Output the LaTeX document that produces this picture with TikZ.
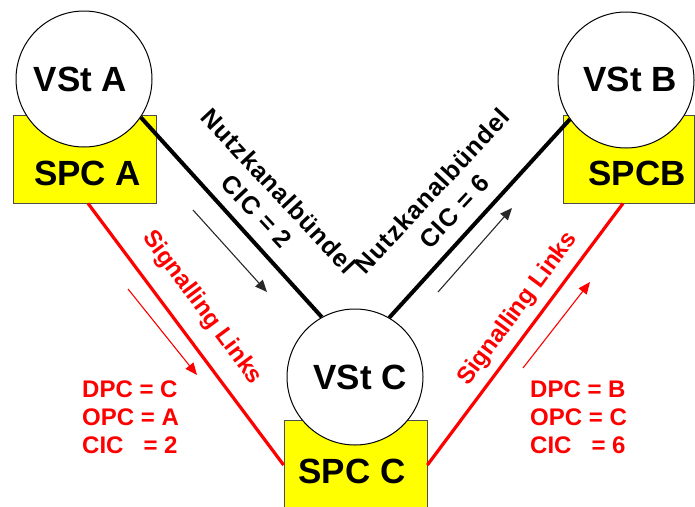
\documentclass[tikz,border=0pt]{standalone}
\usepackage{fontspec}
\setmainfont{Liberation Sans}
\usetikzlibrary{arrows.meta}

\definecolor{spcyellow}{RGB}{255,255,0}
\definecolor{linkred}{RGB}{255,0,0}
\definecolor{flowgray}{RGB}{40,40,40}

\tikzset{
  vst/.style={circle, draw=black, line width=1pt, fill=white,
              minimum size=136pt, inner sep=0pt},
  spcbox/.style={rectangle, draw=black!70, line width=0.8pt,
                 fill=spcyellow, inner sep=0pt},
  biglabel/.style={font=\fontsize{35}{40}\selectfont\bfseries,
                   inner sep=0pt, anchor=base},
  midlabel/.style={font=\fontsize{24}{28}\selectfont\bfseries,
                   inner sep=0pt},
  trunklabel/.style={font=\fontsize{25}{30}\selectfont\bfseries\addfontfeature{LetterSpace=4},
                     inner sep=0pt, align=center},
  trunk/.style={line width=4pt, black},
  siglink/.style={line width=3.2pt, linkred},
  flowarrow/.style={line width=1.1pt, flowgray,
                    -{Triangle[length=12pt,width=10pt]}},
  sigarrow/.style={line width=1.1pt, linkred,
                   -{Triangle[length=12pt,width=10pt]}},
}

\begin{document}
\begin{tikzpicture}[x=1pt,y=-1pt]
\useasboundingbox (0,0) rectangle (695,506);

% signalling point boxes
\node[spcbox, minimum width=143pt, minimum height=88pt] (spcA) at (84.5,159) {};
\node[spcbox, minimum width=131pt, minimum height=88pt] (spcB) at (628.5,159) {};
\node[spcbox, minimum width=143pt, minimum height=90pt] (spcC) at (355.5,465) {};

% exchanges
\node[vst] (vstA) at (84,79) {};
\node[vst] (vstB) at (626,80) {};
\node[vst] (vstC) at (355,377) {};

\node[biglabel] (tA) at (80.5,91) {VSt A};
\node[biglabel] (tB) at (630,91) {VSt B};
\node[biglabel] (tC) at (360,389) {VSt C};
\node[biglabel] (sA) at (87.5,185) {SPC A};
\node[biglabel] (sB) at (637,185) {SPCB};
\node[biglabel] (sC) at (352,483) {SPC C};

% trunk groups
\draw[trunk] (vstA.-34) -- (vstC.119);
\draw[trunk] (vstB.215) -- (vstC.60);

% signalling links
\draw[siglink] ([xshift=3.5pt]spcA.south) -- (spcC.west);
\draw[siglink] ([xshift=-5.5pt]spcB.south) -- (spcC.east);

% direction arrows
\coordinate (fa1) at (193,210); \coordinate (fa2) at (267,292);
\coordinate (fb1) at (438,292); \coordinate (fb2) at (512,208);
\coordinate (ra1) at (128,289); \coordinate (ra2) at (197,375);
\coordinate (rb1) at (523,368); \coordinate (rb2) at (590,282);
\draw[flowarrow] (fa1) -- (fa2);
\draw[flowarrow] (fb1) -- (fb2);
\draw[sigarrow] (ra1) -- (ra2);
\draw[sigarrow] (rb1) -- (rb2);

% trunk labels
\node[trunklabel, rotate=-47] (nkA) at (268,201)
  {Nutzkanalbündel\\CIC = 2};
\node[trunklabel, rotate=47] (nkB) at (443,201)
  {Nutzkanalbündel\\CIC = 6};

% link labels
\node[midlabel, text=linkred, rotate=-53.4] (slA) at (202,308) {Signalling Links};
\node[midlabel, text=linkred, rotate=53.4] (slB) at (518,309) {Signalling Links};

% routing labels
\node[midlabel, text=linkred, anchor=base west] (dA) at (82,397) {DPC = C};
\node[midlabel, text=linkred, anchor=base west] (oA) at (82,425) {OPC = A};
\node[midlabel, text=linkred, anchor=base west] (cA) at (82,453) {CIC\ \ \ = 2};
\node[midlabel, text=linkred, anchor=base west] (dB) at (530,397) {DPC = B};
\node[midlabel, text=linkred, anchor=base west] (oB) at (530,425) {OPC = C};
\node[midlabel, text=linkred, anchor=base west] (cB) at (530,453) {CIC\ \ \ = 6};
\end{tikzpicture}
\end{document}
